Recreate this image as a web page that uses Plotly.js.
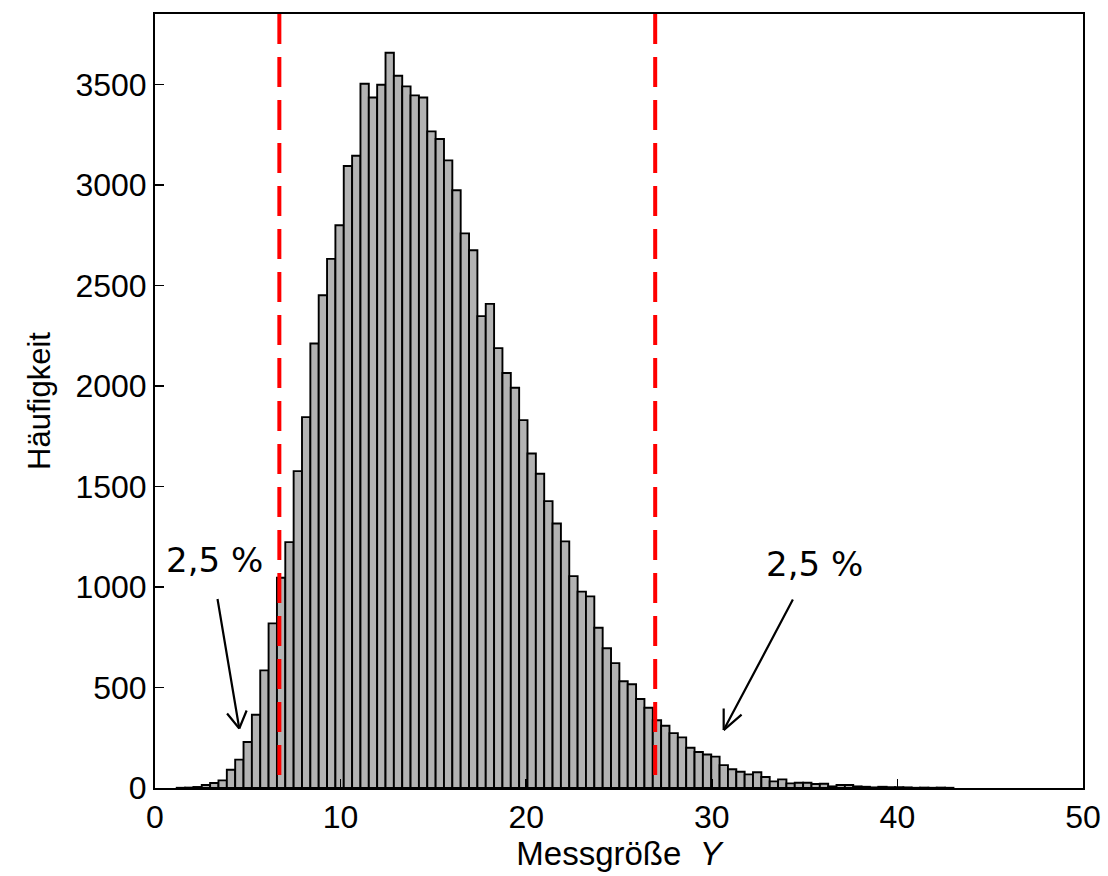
<!DOCTYPE html>
<html>
<head>
<meta charset="utf-8">
<script src="https://cdn.plot.ly/plotly-3.0.1.min.js"></script>
<style>
  html, body { margin: 0; padding: 0; background: #ffffff; }
  #chart { width: 1108px; height: 876px; }
</style>
</head>
<body>
<div id="chart"></div>
<script>
// Histogram of the measured quantity Y (100 bins, width 0.45)
const binStart = 0.72;
const binWidth = 0.45;
const counts = [
  0, 1, 2, 5, 15, 25, 38, 91, 141, 229,
  364, 585, 819, 1046, 1223, 1576, 1845, 2211, 2451, 2632,
  2799, 3094, 3145, 3503, 3435, 3498, 3657, 3543, 3490, 3445,
  3435, 3266, 3228, 3122, 2973, 2759, 2675, 2347, 2408, 2188,
  2064, 1991, 1830, 1664, 1563, 1427, 1316, 1227, 1054, 977,
  953, 797, 695, 621, 531, 516, 443, 399, 337, 310,
  273, 252, 200, 179, 167, 156, 114, 93, 81, 68,
  78, 55, 33, 43, 23, 26, 26, 20, 21, 8,
  15, 15, 8, 6, 3, 6, 4, 4, 3, 1,
  2, 1, 2, 1, 0, 0, 0, 0, 0, 0
];
// 2.5 % and 97.5 % quantiles
const quantiles = [6.70, 26.95];
const xTicks = [0, 10, 20, 30, 40, 50];
const yTicks = [0, 500, 1000, 1500, 2000, 2500, 3000, 3500];
const xTitle = 'Messgröße\u00a0\u00a0<i>Y</i>';
const yTitle = 'Häufigkeit';
const tailLabel = '2,5 %';

const binCenters = counts.map((_, i) => binStart + binWidth * (i + 0.5));
// bins without any counts are left empty (no outline drawn)
const barValues = counts.map(c => (c > 0 ? c : null));

const tickFont = { family: 'Liberation Sans, Arial, Helvetica, sans-serif', size: 32, color: '#000000' };
const titleFont = { family: 'Liberation Sans, Arial, Helvetica, sans-serif', size: 31, color: '#000000' };
const xTitleFont = { family: 'Liberation Sans, Arial, Helvetica, sans-serif', size: 33, color: '#000000' };
const noteFont = { family: 'DejaVu Sans, Verdana, sans-serif', size: 34, color: '#000000' };

const trace = {
  type: 'bar',
  x: binCenters,
  y: barValues,
  width: binWidth,
  marker: { color: '#b3b3b3', line: { color: '#000000', width: 1.9 } },
  hoverinfo: 'skip'
};

const shapes = quantiles.map(q => ({
  type: 'line', xref: 'x', yref: 'paper',
  x0: q, x1: q, y0: 1, y1: 0,
  line: { color: '#ff0000', width: 4, dash: '30px,13px' },
  layer: 'above'
}));

function arrow(x, y, ax, ay) {
  return { x: x, y: y, xref: 'x', yref: 'y', ax: ax, ay: ay, text: '',
           showarrow: true, arrowhead: 0, arrowwidth: 2.2, arrowcolor: '#000000',
           standoff: 0, startstandoff: 0 };
}

const annotations = [
  { x: 3.18, y: 1135, xref: 'x', yref: 'y', text: tailLabel, showarrow: false, font: noteFont, xanchor: 'center', yanchor: 'middle' },
  { x: 35.53, y: 1115, xref: 'x', yref: 'y', text: tailLabel, showarrow: false, font: noteFont, xanchor: 'center', yanchor: 'middle' },
  arrow(4.54, 296, -22, -131),
  arrow(4.54, 296, -13.4, -16.5),
  arrow(4.54, 296, 8, -19.5),
  arrow(30.64, 288, 70, -132),
  arrow(30.64, 288, 0, -23),
  arrow(30.64, 288, 19.4, -16.7)
];

const layout = {
  width: 1108, height: 876,
  margin: { l: 155, r: 25, t: 14, b: 88, pad: 0 },
  paper_bgcolor: '#ffffff', plot_bgcolor: '#ffffff',
  showlegend: false,
  bargap: 0,
  font: tickFont,
  xaxis: {
    range: [0, 50], tickvals: xTicks, ticktext: xTicks.map(String),
    ticks: 'inside', ticklen: 9, tickwidth: 1.5, tickcolor: '#000000',
    showline: true, linecolor: '#000000', linewidth: 2, mirror: true,
    showgrid: false, zeroline: false, tickfont: tickFont,
    title: { text: xTitle, font: xTitleFont, standoff: 6 }
  },
  yaxis: {
    range: [0, 3850], tickvals: yTicks, ticktext: yTicks.map(String),
    ticks: 'inside', ticklen: 9, tickwidth: 1.5, tickcolor: '#000000',
    showline: true, linecolor: '#000000', linewidth: 2, mirror: true,
    showgrid: false, zeroline: false, tickfont: tickFont,
    title: { text: yTitle, font: titleFont, standoff: 16 }
  },
  shapes: shapes,
  annotations: annotations
};

Plotly.newPlot('chart', [trace], layout, { staticPlot: true, displayModeBar: false });
</script>
</body>
</html>
